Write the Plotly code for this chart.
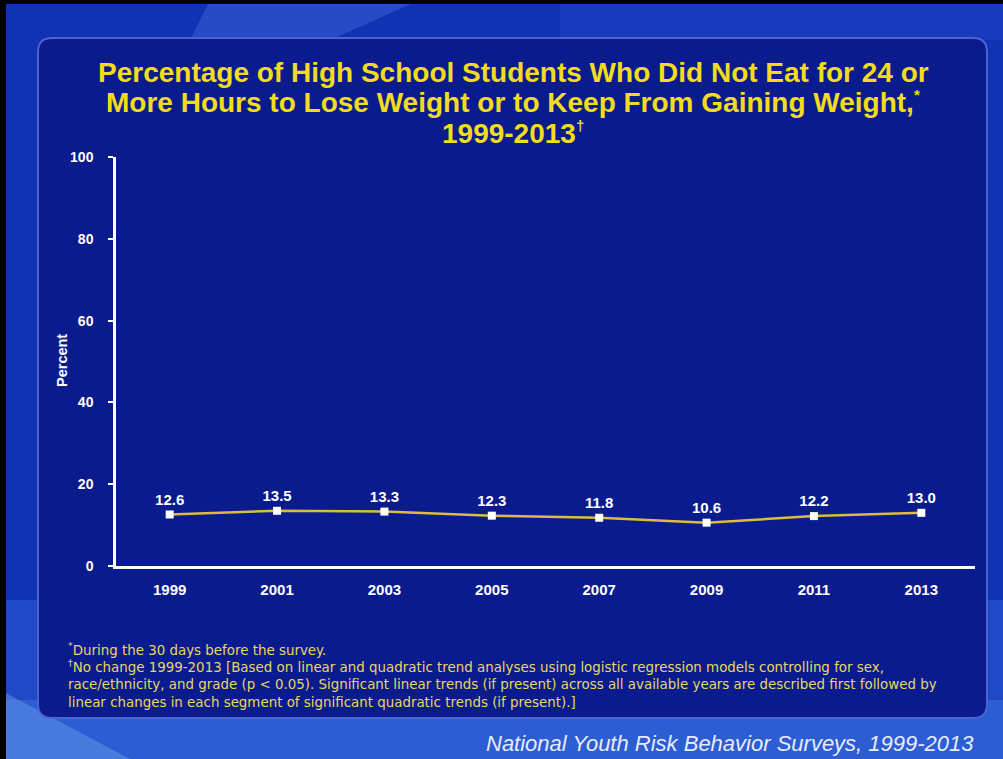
import plotly.graph_objects as go

# survey years and percentages
years = ["1999", "2001", "2003", "2005", "2007", "2009", "2011", "2013"]
pct = [12.6, 13.5, 13.3, 12.3, 11.8, 10.6, 12.2, 13.0]
pct_labels = ["12.6", "13.5", "13.3", "12.3", "11.8", "10.6", "12.2", "13.0"]
y_ticks = [0, 20, 40, 60, 80, 100]

small = "<sup><span style='font-size:15px'>{}</span></sup>"
title_lines = ["Percentage of High School Students Who Did Not Eat for 24 or",
               "More Hours to Lose Weight or to Keep From Gaining Weight," + small.format("*"),
               "1999-2013" + small.format("†")]
footnotes = [
    "<sup>*</sup>During the 30 days before the survey.",
    "<sup>†</sup>No change 1999-2013 [Based on linear and quadratic trend analyses using logistic regression models controlling for sex,",
    "race/ethnicity, and grade (p &lt; 0.05). Significant linear trends (if present) across all available years are described first followed by",
    "linear changes in each segment of significant quadratic trends (if present).]",
]
source = "National Youth Risk Behavior Surveys, 1999-2013"

W, H = 1003, 759
L, R, T, B = 116, 975, 157, 566   # plot area in pixels
FONT = "Liberation Sans, Arial, sans-serif"
WIDE = "DejaVu Sans, sans-serif"
GOLD = "#f2dc1c"

fig = go.Figure()
fig.add_trace(go.Scatter(
    x=years, y=pct, mode="lines+markers+text",
    text=pct_labels, textposition="top center",
    textfont=dict(family=FONT, size=15, color="white", weight="bold"),
    line=dict(color="#dcbc3a", width=2.5),
    marker=dict(symbol="square", size=8, color="white"),
    cliponaxis=False, showlegend=False, hoverinfo="skip",
))

# pixel -> paper (paper is the plot area)
def px_x(v):
    return (v - L) / (R - L)

def px_y(v):
    return (B - v) / (B - T)

def conv(p):
    out = []
    toks = p.split()
    i = 0
    while i < len(toks):
        t = toks[i]
        if t in "MLQZ":
            out.append(t)
            i += 1
        else:
            out.append(f"{px_x(float(t)):.5f} {px_y(float(toks[i + 1])):.5f}")
            i += 2
    return " ".join(out)

shapes = []
# background: lighter towards the bottom
shapes.append(dict(type="rect", xref="paper", yref="paper", x0=px_x(0), x1=px_x(W),
                   y0=px_y(H), y1=px_y(0), fillcolor="#1232b4", line=dict(width=0), layer="below"))
shapes.append(dict(type="rect", xref="paper", yref="paper", x0=px_x(0), x1=px_x(W),
                   y0=px_y(H), y1=px_y(600), fillcolor="rgba(60,120,230,0.35)",
                   line=dict(width=0), layer="below"))
shapes.append(dict(type="rect", xref="paper", yref="paper", x0=px_x(0), x1=px_x(W),
                   y0=px_y(H), y1=px_y(700), fillcolor="rgba(70,130,235,0.35)",
                   line=dict(width=0), layer="below"))
shapes.append(dict(type="path", xref="paper", yref="paper",
                   path=conv("M 0 690 L 130 759 L 0 759 Z"),
                   fillcolor="rgba(130,180,250,0.35)", line=dict(width=0), layer="below"))
shapes.append(dict(type="path", xref="paper", yref="paper",
                   path=conv("M 210 0 L 420 0 L 330 40 L 190 40 Z"),
                   fillcolor="rgba(80,120,230,0.35)", line=dict(width=0), layer="below"))
shapes.append(dict(type="path", xref="paper", yref="paper",
                   path=conv("M 560 0 L 1003 0 L 1003 40 L 560 40 Z"),
                   fillcolor="rgba(40,80,210,0.35)", line=dict(width=0), layer="below"))
# inner rounded panel
x0, x1, y0, y1, r = 38, 987, 38, 718, 14
panel = (f"M {x0 + r} {y0} L {x1 - r} {y0} Q {x1} {y0} {x1} {y0 + r} "
         f"L {x1} {y1 - r} Q {x1} {y1} {x1 - r} {y1} L {x0 + r} {y1} "
         f"Q {x0} {y1} {x0} {y1 - r} L {x0} {y0 + r} Q {x0} {y0} {x0 + r} {y0} Z")
shapes.append(dict(type="path", xref="paper", yref="paper", path=conv(panel),
                   fillcolor="#0a1b8e", line=dict(color="#4c63d0", width=2), layer="below"))
# black frame on top and left
shapes.append(dict(type="rect", xref="paper", yref="paper", x0=px_x(0), x1=px_x(W),
                   y0=px_y(4), y1=px_y(0), fillcolor="black", line=dict(width=0)))
shapes.append(dict(type="rect", xref="paper", yref="paper", x0=px_x(0), x1=px_x(6),
                   y0=px_y(H), y1=px_y(0), fillcolor="black", line=dict(width=0)))

annotations = []
for line, yc in zip(title_lines, [72, 102, 133]):
    annotations.append(dict(text=line, xref="paper", yref="paper", x=px_x(513), y=px_y(yc),
                            xanchor="center", yanchor="middle", showarrow=False,
                            font=dict(family=FONT, size=28, color=GOLD, weight="bold")))
annotations += [
    dict(text="<br>".join(footnotes), xref="paper", yref="paper", x=px_x(66), y=px_y(638),
         xanchor="left", yanchor="top", showarrow=False, align="left",
         font=dict(family=WIDE, size=13.4, color="#e8d860")),
    dict(text=f"<i>{source}</i>", xref="paper", yref="paper", x=px_x(976), y=px_y(743),
         xanchor="right", yanchor="middle", showarrow=False,
         font=dict(family=FONT, size=22, color="#e6ecff")),
    dict(text="<b>Percent</b>", xref="paper", yref="paper", x=px_x(62), y=px_y(361),
         xanchor="center", yanchor="middle", showarrow=False, textangle=-90,
         font=dict(family=FONT, size=14.5, color="white")),
]

fig.update_layout(
    width=W, height=H,
    margin=dict(l=L, r=W - R, t=T, b=H - B),
    paper_bgcolor="#1232b4", plot_bgcolor="rgba(0,0,0,0)",
    shapes=shapes, annotations=annotations,
    font=dict(family=FONT, color="white"),
)
fig.update_xaxes(
    type="category", range=[-0.5, 7.5], showline=True, linecolor="white", linewidth=3,
    showgrid=False, zeroline=False, ticks="",
    tickfont=dict(family=FONT, size=15, color="white", weight="bold"),
    ticklabelstandoff=8,
)
fig.update_yaxes(
    range=[0, 100], tickvals=y_ticks, showline=True, linecolor="white", linewidth=2.5,
    showgrid=False, zeroline=False, ticks="outside", ticklen=5, tickwidth=2, tickcolor="white",
    tickfont=dict(family=FONT, size=14, color="white", weight="bold"),
    ticklabelstandoff=12,
)

fig.write_html("out.html", config={"displayModeBar": False},
               post_script="document.body.style.margin='0';")
